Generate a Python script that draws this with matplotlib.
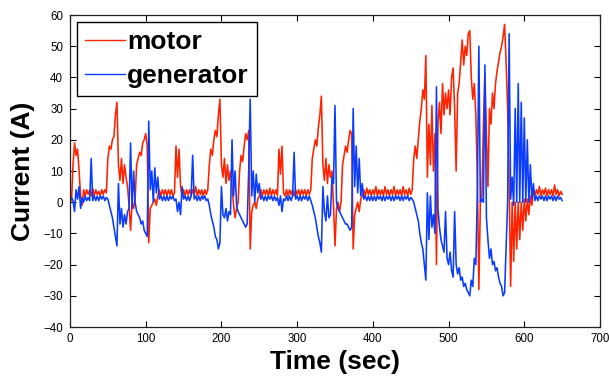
import numpy as np
import matplotlib
matplotlib.use("Agg")
import matplotlib.pyplot as plt

plt.rcParams['font.family'] = ['Liberation Sans', 'DejaVu Sans']

# time axis (sec), one sample every 2 s
time_step = 2
time_end = 650

# motor current (A), 2-s samples
motor_000 = [1, 0.5, 12, 19, 15, 17, 10, 2, -1, 4, 2, 4, 2.5, 4, 2, 4.5, 2, 4, 2.5, 3.5,
             2, 4, 2.5, 4, 3, 14, 18, 17, 20, 21, 28, 32, 12, 7, 14, 6, 12, 8, 5, -1,
             -9, 0, -2, 1, 12, 14, 16, 15, 19, 20]
motor_100 = [22, 18, -13, -2, -1, 0, 1, -1, 2, 4, 2, 4, 2.5, 4, 2, 4, 2.5, 4, 2, 3,
             18, 8, 17, 5, 2, 4, 2, 4, 2.5, 4, 2, 4, 2.5, 5, 2, 4, 2.5, 4, 2, 4,
             2.5, 4, 12, 17, 15, 20, 23, 21, 28, 33]
motor_200 = [12, 8, 14, 6, 12, 7, 10, 5, -1, -5, -2, 0, 10, 15, 13, 18, 22, 20, 23, -15,
             -3, -1, 0, -2, 1, 2, 4, 2, 4, 2.5, 4, 2, 4.5, 2, 4, 2.5, 4, 2, 17, 9,
             18, 3, 2, 4, 2, 4, 2.5, 4, 2, 4]
motor_300 = [2.5, 4, 2, 4, 2.5, 4, 2, 4, 2.5, 4, 14, 17, 20, 18, 24, 28, 34, 12, 7, 14,
             6, 12, 8, 10, -1, -14, -2, 0, -3, 0, 12, 15, 18, 16, 20, 23, 22, -15, -4, -2,
             0, -3, 1, 2, 4, 2, 4.5, 2.5, 4, 2]
motor_400 = [4, 2.5, 5, 2, 4, 2.5, 4, 2, 5, 2.5, 4, 2, 4, 2.5, 5, 2, 4, 2.5, 4, 2,
             5, 2.5, 4, 2, 4.5, 2.5, 4, 14, 18, 14, 20, 26, 30, 36, 33, 47, 8, 25, 12, 31,
             10, 22, -20, 25, 32, 22, 38, 28, 35, 30]
motor_500 = [36, 28, 40, 43, 30, 10, 35, 38, 45, 52, 44, 50, 47, 54, 55, 40, 33, 38, 28, 8,
             -28, 0, 2, 25, 41, 22, 5, 30, 25, 35, 30, 38, 42, 45, 48, 50, 53, 57, 45, 30,
             5, -27, 0, -19, 0, -15, 0, -12, 0, -9]
motor_600 = [1, -6, 1, -4, 2, -1, 4, 2, 4, 2.5, 5, 2, 4, 2.5, 4.5, 2, 4, 2.5, 4, 2,
             5.5, 2.5, 4, 2, 3.5, 2.5]

# generator current (A), 2-s samples
gen_000 = [1, 1.5, 0.5, -3, 4, 1, 5, -2, 1.5, 0, 2, 0.5, 1.5, 0.5, 14, 0.5, 2, 0.5, 2, 0.5,
           2, 1, 2, 0.5, 1.5, 1, -1, -3, -5, -8, -11, -14, 6, -7, -2, -8, -4, -7, -3, -2,
           19, -2, 10, 0, -3, -4, -5, -7, -6, -9]
gen_100 = [-10, -11, 26, 4, 10, 0, 11, 3, 8, 1, 2, 0.5, 2, 0.5, 2, 0.5, 2, 1, 2, 0.5,
           1, -3, 0, -4, 5, 1, 2, 0.5, 2, 0.5, 2, 15, 1, 2, 0.5, 2, 0.5, 2, 1, 2,
           0.5, 1, -1, -4, -6, -8, -11, -12, -15, -13]
gen_200 = [5, -4, -5, -2, -6, -3, -4, 20, 2, 10, -1, -3, -4, -5, -6, -7, -8, -7, 10, 33,
           2, 10, 0, 9, 3, 6, 1, 2, 0.5, 2, 0.5, 2, 1, 2, 0.5, 2, 0.5, 1.5, -1, 2,
           -3, 1, 0.5, 2, 0.5, 2, 0.5, 2, 16, 1]
gen_300 = [2, 0.5, 2, 0.5, 2, 1, 2, 0.5, 2, 0.5, -1, -3, -5, -8, -11, -13, -16, 5, -3, -6,
           2, -5, -4, 8, 6, 31, 0, -2, -3, -4, -5, -6, -7, -7, -8, -9, -8, 30, 5, 18,
           3, 14, 2, 6, 1, 2, 0.5, 2, 0.5, 2]
gen_400 = [0.5, 2, 0.5, 2, 1, 2, 0.5, 2, 0.5, 2, 1, 2, 0.5, 2, 0.5, 2, 1, 2, 0.5, 2,
           0.5, 2, 1, 2, 0.5, 1.5, 1, 0, -2, -4, -6, -10, -13, -15, -20, -25, 3, -12, 2, -8,
           -4, -10, 37, -2, -8, -12, -14, -16, -3, -18]
gen_500 = [-20, -16, -22, -24, -3, -20, -23, -21, -25, -24, -27, -26, -28, -29, -30, -25, -27, -18, -20, 3,
           50, 0, 1, 0, 44, -5, -12, -18, -15, -20, -19, -22, -21, -24, -26, -27, -30, -29, -15, 0,
           54, 1, 8, -1, 30, 0, 38, 0, 32, 0]
gen_600 = [27, 0, 20, 0, 12, 1, 6, 0.5, 2, 0.5, 2, 1, 2, 0.5, 2, 0.5, 2, 1, 2, 0.5,
           2, 0.5, 2, 1, 1.5, 0.5]

labels = ["motor", "generator"]
x_ticks = [0, 100, 200, 300, 400, 500, 600, 700]
y_ticks = [-40, -30, -20, -10, 0, 10, 20, 30, 40, 50, 60]

motor = np.concatenate([motor_000, motor_100, motor_200, motor_300,
                        motor_400, motor_500, motor_600])
generator = np.concatenate([gen_000, gen_100, gen_200, gen_300,
                            gen_400, gen_500, gen_600])
t = np.arange(0, time_end + 1, time_step)

fig = plt.figure(figsize=(6.09, 3.82), dpi=100)
fig.patch.set_facecolor('white')
ax = fig.add_axes([70/609, 1 - 327/382, 530/609, 312/382])

ax.plot(t, motor, color='#ff2200', lw=1.15, label=labels[0])
ax.plot(t, generator, color='#0a3cff', lw=1.15, label=labels[1])

ax.set_xlim(0, 700)
ax.set_ylim(-40, 60)
ax.set_xticks(x_ticks)
ax.set_yticks(y_ticks)
ax.tick_params(direction='in', length=4, width=0.8, labelsize=8.3,
               top=True, right=True, pad=5)
ax.tick_params(axis='x', pad=4)
for s in ax.spines.values():
    s.set_linewidth(0.9)
    s.set_color('#222222')

ax.set_xlabel('Time (sec)', fontsize=19, fontweight='bold', labelpad=4)
ax.set_ylabel('Current (A)', fontsize=19, fontweight='bold', labelpad=6)

leg = ax.legend(loc='upper left', bbox_to_anchor=((77-70)/530, (327-22)/312),
                borderaxespad=0, fancybox=False, framealpha=1, edgecolor='black',
                prop={'size': 19, 'weight': 'bold'}, handlelength=1.5,
                handletextpad=0.1, labelspacing=0.4, borderpad=0.3)
leg.get_frame().set_linewidth(1.0)
for line in leg.get_lines():
    line.set_linewidth(1.0)

fig.savefig('out.png', dpi=100, facecolor='white')
